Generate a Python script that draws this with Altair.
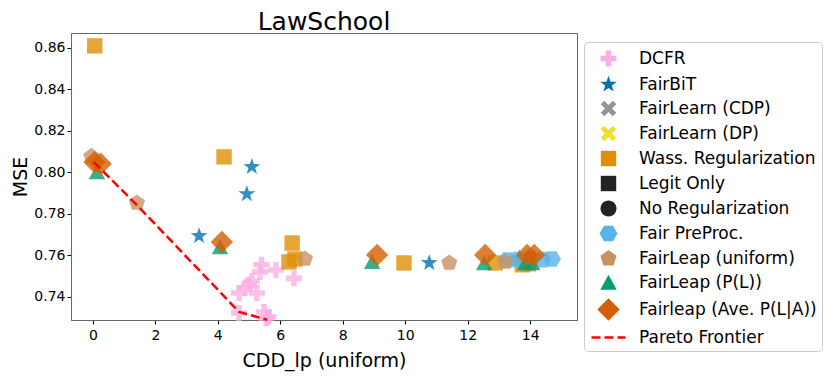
import math
import altair as alt
import pandas as pd

# ---------------- data ----------------
methods = ["DCFR", "FairBiT", "FairLearn (CDP)", "FairLearn (DP)", "Wass. Regularization",
           "Legit Only", "No Regularization", "Fair PreProc.", "FairLeap (uniform)",
           "FairLeap (P(L))", "Fairleap (Ave. P(L|A))", "Pareto Frontier"]

dcfr_x = [5.35, 5.86, 6.44, 5.09, 4.87, 5.25, 4.68, 4.68, 5.48, 5.55, 5.62, 5.4, 5.0]
dcfr_y = [0.752, 0.753, 0.749, 0.7477, 0.7443, 0.7419, 0.7419, 0.7323, 0.7328, 0.7298, 0.7305, 0.7555, 0.746]

fairbit_x = [5.09, 4.93, 3.4, 10.77, 13.65]
fairbit_y = [0.8027, 0.7896, 0.7694, 0.7564, 0.7588]

wass_x = [0.06, 4.2, 6.38, 6.28, 6.47, 9.96, 12.88, 13.75, 13.95]
wass_y = [0.861, 0.8075, 0.766, 0.7569, 0.7583, 0.7564, 0.7564, 0.7555, 0.7560]

preproc_x = [13.27, 13.6, 14.0, 14.4, 14.7]
preproc_y = [0.7578, 0.7580, 0.7585, 0.7580, 0.7583]

uniform_x = [-0.05, 1.41, 6.79, 11.41, 13.2]
uniform_y = [0.8078, 0.7853, 0.7583, 0.7564, 0.7569]

pl_x = [0.13, 4.07, 8.94, 12.53, 13.84, 14.07]
pl_y = [0.8002, 0.7641, 0.7569, 0.7564, 0.7564, 0.7564]

ave_x = [0.05, 0.25, 4.13, 9.1, 12.56, 13.9, 14.13]
ave_y = [0.8050, 0.8042, 0.7665, 0.7602, 0.7602, 0.7602, 0.7602]

pareto_x = [0.03, 1.41, 4.68, 5.58]
pareto_y = [0.8050, 0.7843, 0.7328, 0.7290]

x_ticks = [0, 2, 4, 6, 8, 10, 12, 14]
y_ticks = [0.74, 0.76, 0.78, 0.80, 0.82, 0.84, 0.86]

# ---------------- styles ----------------
fills = ["#FBAFE4", "#0173B2", "#949494", "#ECE133", "#DE8F05", "#222222", "#222222",
         "#56B4E9", "#CA9161", "#029E73", "#D55E00", "#FF0000"]
strokes = ["transparent"] * 11 + ["#FF0000"]


def poly(pts):
    return "M" + " L".join(f"{px:.3f},{py:.3f}" for px, py in pts) + " Z"


def regular(n, r, start):
    return poly([(r * math.cos(math.radians(start + k * 360 / n)),
                  r * math.sin(math.radians(start + k * 360 / n))) for k in range(n)])


def star(ro, ri):
    pts = []
    for k in range(10):
        r = ro if k % 2 == 0 else ri
        a = math.radians(-90 + k * 36)
        pts.append((r * math.cos(a), r * math.sin(a)))
    return poly(pts)


def plus(e, w):
    return poly([(-w, -e), (w, -e), (w, -w), (e, -w), (e, w), (w, w), (w, e), (-w, e),
                 (-w, w), (-e, w), (-e, -w), (-w, -w)])


def xshape(e, w):
    c = math.sqrt(0.5)
    pts = [(-w, -e), (w, -e), (w, -w), (e, -w), (e, w), (w, w), (w, e), (-w, e),
           (-w, w), (-e, w), (-e, -w), (-w, -w)]
    return poly([((px - py) * c, (px + py) * c) for px, py in pts])


shapes = [
    plus(0.8, 0.27),
    star(0.88, 0.35),
    xshape(0.85, 0.25),
    xshape(0.85, 0.25),
    poly([(-0.77, -0.77), (0.77, -0.77), (0.77, 0.77), (-0.77, 0.77)]),
    poly([(-0.77, -0.77), (0.77, -0.77), (0.77, 0.77), (-0.77, 0.77)]),
    "M-0.8,0 A0.8,0.8 0 1,0 0.8,0 A0.8,0.8 0 1,0 -0.8,0 Z",
    regular(6, 0.9, 0),
    regular(5, 0.85, -90),
    poly([(0, -0.78), (0.82, 0.72), (-0.82, 0.72)]),
    poly([(0, -1.12), (1.12, 0), (0, 1.12), (-1.12, 0)]),
    "M-1.7,0 L1.7,0",
]

rows = []
for name, xs, ys in [("DCFR", dcfr_x, dcfr_y), ("FairBiT", fairbit_x, fairbit_y),
                     ("Wass. Regularization", wass_x, wass_y),
                     ("Fair PreProc.", preproc_x, preproc_y),
                     ("FairLeap (uniform)", uniform_x, uniform_y),
                     ("FairLeap (P(L))", pl_x, pl_y),
                     ("Fairleap (Ave. P(L|A))", ave_x, ave_y)]:
    for a, b in zip(xs, ys):
        rows.append({"method": name, "x": a, "mse": b})
df = pd.DataFrame(rows)
pareto_df = pd.DataFrame({"x": pareto_x, "mse": pareto_y})

FONT = "DejaVu Sans"
PLOT_W, PLOT_H = 506, 287
xscale = alt.Scale(domain=[-0.7, 15.5], nice=False, zero=False)
yscale = alt.Scale(domain=[0.7289, 0.8672], nice=False, zero=False)
xaxis = alt.Axis(values=x_ticks, title="CDD_lp (uniform)", grid=False, format="d",
                 labelPadding=4, titlePadding=9)
yaxis = alt.Axis(values=y_ticks, title="MSE", grid=False, format=".2f",
                 labelPadding=2, titlePadding=3)

lg = alt.Legend(title=None)
points = alt.Chart(df).mark_point(filled=True, size=400, fillOpacity=0.8, strokeWidth=2.5).encode(
    x=alt.X("x:Q", scale=xscale, axis=xaxis),
    y=alt.Y("mse:Q", scale=yscale, axis=yaxis),
    fill=alt.Fill("method:N", scale=alt.Scale(domain=methods, range=fills), legend=lg),
    stroke=alt.Stroke("method:N", scale=alt.Scale(domain=methods, range=strokes), legend=lg),
    shape=alt.Shape("method:N", scale=alt.Scale(domain=methods, range=shapes), legend=lg),
)

line = alt.Chart(pareto_df).mark_line(color="#FF0000", strokeDash=[9, 4], strokeWidth=2.5).encode(
    x=alt.X("x:Q", scale=xscale, axis=xaxis),
    y=alt.Y("mse:Q", scale=yscale, axis=yaxis),
)

chart = alt.layer(points, line).properties(
    width=PLOT_W, height=PLOT_H,
    title=alt.TitleParams("LawSchool", fontSize=25, font=FONT, fontWeight="normal",
                          anchor="middle", frame="group", offset=-2, color="black"),
    padding={"left": 3, "top": 2, "right": 0, "bottom": 6},
).configure_view(
    stroke="#666666", strokeWidth=1
).configure_axis(
    labelFont=FONT, labelFontSize=14, labelColor="black",
    titleFont=FONT, titleFontSize=19, titleFontWeight="normal", titleColor="black",
    tickColor="black", tickSize=4, domainColor="#666666",
).configure_legend(
    orient="none", legendX=PLOT_W + 7, legendY=9,
    padding=5, strokeColor="#cccccc", cornerRadius=4,
    fillColor="white", labelFont=FONT, labelFontSize=17, labelColor="black",
    symbolSize=400, symbolStrokeWidth=2.5, symbolDash=[9, 4], rowPadding=-2,
    symbolOffset=8, labelOffset=19, labelLimit=400,
)

chart.save("out.html", embed_options={"renderer": "svg", "actions": False})
